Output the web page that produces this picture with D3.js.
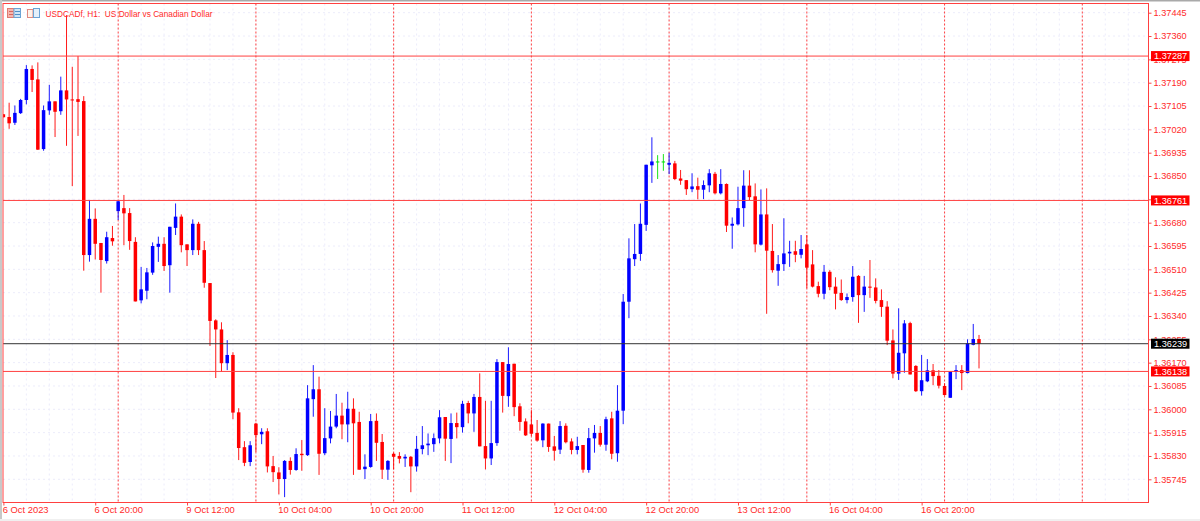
<!DOCTYPE html>
<html>
<head>
<meta charset="utf-8">
<script src="https://cdn.jsdelivr.net/npm/d3@7/dist/d3.min.js"></script>
<style>
html,body{margin:0;padding:0;background:#fff;overflow:hidden}
svg{display:block}
text{font-family:"Liberation Sans",Arial,sans-serif;font-size:9.2px}
</style>
</head>
<body>
<div id="chart"></div>
<script>
const title = "USDCADf, H1:  US Dollar vs Canadian Dollar";
const open = [1.37075,1.37065,1.37044,1.37079,1.37127,1.37240,1.37202,1.36948,1.37089,1.37122,
1.37086,1.37162,1.37129,1.37130,1.37123,1.36562,1.36694,1.36606,1.36540,1.36624,
1.36722,1.36733,1.36715,1.36610,1.36397,1.36432,1.36498,1.36592,1.36603,1.36525,
1.36661,1.36702,1.36601,1.36580,1.36676,1.36580,1.36460,1.36324,1.36291,1.36168,
1.36198,1.35989,1.35862,1.35808,1.35948,1.35909,1.35920,1.35793,1.35770,1.35746,
1.35812,1.35779,1.35838,1.35833,1.36037,1.36073,1.35840,1.35894,1.35937,1.35977,
1.35945,1.36002,1.35954,1.35782,1.35790,1.35958,1.35881,1.35780,1.35838,1.35830,
1.35821,1.35827,1.35792,1.35855,1.35869,1.35873,1.35894,1.35972,1.35892,1.35950,
1.35935,1.36023,1.35985,1.36045,1.35866,1.35821,1.35877,1.36172,1.36048,1.36166,
1.36011,1.35956,1.35945,1.35914,1.35887,1.35948,1.35865,1.35853,1.35940,1.35883,
1.35852,1.35870,1.35779,1.35894,1.35914,1.35871,1.35967,1.35840,1.35995,1.36392,
1.36547,1.36566,1.36672,1.36889,1.36903,1.36903,1.36891,1.36896,1.36841,1.36835,
1.36802,1.36813,1.36800,1.36816,1.36858,1.36787,1.36821,1.36669,1.36674,1.36733,
1.36815,1.36776,1.36600,1.36710,1.36577,1.36505,1.36529,1.36568,1.36576,1.36563,
1.36601,1.36528,1.36449,1.36421,1.36501,1.36447,1.36424,1.36398,1.36409,1.36486,
1.36416,1.36447,1.36444,1.36398,1.36374,1.36251,1.36130,1.36204,1.36314,1.36158,
1.36066,1.36102,1.36142,1.36122,1.36085,1.36042,1.36137,1.36143,1.36132,1.36235,1.36256];
const high = [1.37075,1.37117,1.37107,1.37131,1.37254,1.37253,1.37264,1.37107,1.37182,1.37122,
1.37212,1.37436,1.37248,1.37287,1.37141,1.36762,1.36732,1.36606,1.36647,1.36668,
1.36762,1.36781,1.36733,1.36627,1.36519,1.36515,1.36608,1.36629,1.36627,1.36665,
1.36750,1.36710,1.36601,1.36692,1.36683,1.36613,1.36460,1.36328,1.36317,1.36252,
1.36208,1.36004,1.35884,1.35884,1.35951,1.35931,1.35931,1.35830,1.35789,1.35815,
1.35825,1.35858,1.35888,1.36088,1.36161,1.36119,1.36004,1.35994,1.36056,1.36024,
1.36064,1.36040,1.35991,1.35836,1.35983,1.35985,1.35910,1.35815,1.35842,1.35844,
1.35836,1.35830,1.35903,1.35939,1.35912,1.35912,1.35997,1.35972,1.35985,1.35988,
1.36031,1.36031,1.36056,1.36131,1.36031,1.36031,1.36183,1.36172,1.36226,1.36166,
1.36022,1.35967,1.35997,1.35961,1.35949,1.35948,1.35903,1.35957,1.35949,1.35894,
1.35900,1.35870,1.35932,1.35943,1.35939,1.35973,1.35991,1.36088,1.36420,1.36623,
1.36675,1.36750,1.36891,1.36991,1.36926,1.36930,1.36935,1.36905,1.36872,1.36835,
1.36860,1.36844,1.36834,1.36875,1.36865,1.36875,1.36823,1.36699,1.36811,1.36871,
1.36871,1.36823,1.36801,1.36805,1.36675,1.36562,1.36696,1.36614,1.36614,1.36635,
1.36635,1.36580,1.36465,1.36526,1.36507,1.36481,1.36473,1.36422,1.36522,1.36489,
1.36486,1.36544,1.36477,1.36437,1.36394,1.36291,1.36368,1.36325,1.36319,1.36161,
1.36198,1.36183,1.36165,1.36143,1.36095,1.36137,1.36161,1.36161,1.36255,1.36311,1.36271];
const low = [1.37064,1.37022,1.37036,1.37076,1.37111,1.37156,1.36945,1.36942,1.37073,1.36992,
1.37073,1.36960,1.36813,1.36996,1.36505,1.36538,1.36546,1.36425,1.36531,1.36596,
1.36690,1.36598,1.36581,1.36393,1.36386,1.36401,1.36490,1.36537,1.36504,1.36425,
1.36635,1.36572,1.36522,1.36562,1.36562,1.36443,1.36231,1.36114,1.36137,1.36143,
1.35964,1.35815,1.35793,1.35793,1.35845,1.35873,1.35770,1.35735,1.35690,1.35680,
1.35762,1.35776,1.35776,1.35830,1.35973,1.35761,1.35833,1.35876,1.35931,1.35891,
1.35880,1.35761,1.35780,1.35746,1.35787,1.35812,1.35746,1.35743,1.35781,1.35803,
1.35790,1.35698,1.35773,1.35836,1.35833,1.35845,1.35876,1.35812,1.35804,1.35894,
1.35915,1.35949,1.35918,1.35865,1.35781,1.35797,1.35867,1.35988,1.36009,1.35975,
1.35922,1.35903,1.35903,1.35882,1.35862,1.35845,1.35813,1.35837,1.35876,1.35836,
1.35836,1.35769,1.35769,1.35842,1.35864,1.35849,1.35818,1.35809,1.35946,1.36332,
1.36522,1.36541,1.36650,1.36825,1.36839,1.36869,1.36857,1.36835,1.36818,1.36781,
1.36791,1.36765,1.36766,1.36791,1.36783,1.36783,1.36646,1.36585,1.36670,1.36665,
1.36762,1.36572,1.36597,1.36348,1.36498,1.36450,1.36504,1.36519,1.36536,1.36550,
1.36441,1.36444,1.36408,1.36401,1.36434,1.36364,1.36395,1.36386,1.36392,1.36315,
1.36355,1.36406,1.36386,1.36337,1.36234,1.36113,1.36107,1.36133,1.36127,1.36063,
1.36050,1.36099,1.36088,1.36076,1.36050,1.36042,1.36110,1.36070,1.36131,1.36233,1.36149];
const close = [1.37064,1.37042,1.37080,1.37127,1.37240,1.37200,1.36946,1.37090,1.37122,1.37084,
1.37162,1.37129,1.37128,1.37120,1.36562,1.36694,1.36603,1.36544,1.36627,1.36612,
1.36758,1.36714,1.36613,1.36393,1.36437,1.36499,1.36595,1.36603,1.36522,1.36665,
1.36702,1.36598,1.36580,1.36676,1.36580,1.36461,1.36322,1.36291,1.36168,1.36198,
1.35988,1.35859,1.35805,1.35869,1.35906,1.35918,1.35792,1.35771,1.35746,1.35812,
1.35779,1.35837,1.35833,1.36040,1.36073,1.35838,1.35895,1.35937,1.35977,1.35945,
1.36002,1.35949,1.35780,1.35791,1.35957,1.35878,1.35780,1.35812,1.35827,1.35820,
1.35827,1.35792,1.35856,1.35869,1.35875,1.35895,1.35971,1.35893,1.35950,1.35935,
1.36020,1.35985,1.36045,1.35865,1.35821,1.35877,1.36172,1.36049,1.36165,1.36008,
1.35954,1.35905,1.35911,1.35886,1.35948,1.35863,1.35849,1.35939,1.35880,1.35852,
1.35866,1.35780,1.35895,1.35914,1.35871,1.35964,1.35838,1.35995,1.36392,1.36550,
1.36566,1.36676,1.36891,1.36903,1.36903,1.36903,1.36898,1.36839,1.36833,1.36802,
1.36812,1.36800,1.36817,1.36860,1.36787,1.36821,1.36669,1.36676,1.36733,1.36815,
1.36773,1.36601,1.36710,1.36578,1.36507,1.36529,1.36568,1.36574,1.36563,1.36584,
1.36516,1.36447,1.36421,1.36501,1.36445,1.36421,1.36398,1.36409,1.36483,1.36416,
1.36447,1.36443,1.36395,1.36373,1.36250,1.36130,1.36206,1.36313,1.36127,1.36066,
1.36106,1.36142,1.36121,1.36086,1.36052,1.36137,1.36143,1.36132,1.36240,1.36256,1.36239];

const priceTicks = [1.37445,1.37360,1.37275,1.37190,1.37105,1.37020,1.36935,1.36850,1.36765,1.36680,1.36595,1.36510,1.36425,1.36340,1.36255,1.36170,1.36085,1.36000,1.35915,1.35830,1.35745];
const timeTickBars = [0,16,32,48,64,80,96,112,128,144,160];
const timeTickLabels = ["6 Oct 2023","6 Oct 20:00","9 Oct 12:00","10 Oct 04:00","10 Oct 20:00","11 Oct 12:00","12 Oct 04:00","12 Oct 20:00","13 Oct 12:00","16 Oct 04:00","16 Oct 20:00"];
const sessionBars = [20,44,68,92,116,140,164,188];
const gridBars = d3.range(4,200,4);
const levelPrices = [1.37287,1.36761,1.36138];
const bidPrice = 1.36239;

const RED="#ff0000", BLUE="#0000ff", GREEN="#00e000", AXIS="#ff4040", GRID="#ececfb", LABEL="#ff2a2a";
const W=1200,H=521, L=3, R=1148.5, T=3.5, B=502.5;

const x=d3.scaleLinear().domain([0,170]).range([3.4,979]);
const y=d3.scaleLinear().domain([1.37445,1.35745]).range([12.7,479.3]);

const svg=d3.select("#chart").append("svg").attr("width",W).attr("height",H);
svg.append("rect").attr("width",W).attr("height",H).attr("fill","#fff");
svg.append("clipPath").attr("id","plot").append("rect").attr("x",L).attr("y",T).attr("width",R-L).attr("height",B-T);
// window chrome
svg.append("rect").attr("x",0).attr("y",0).attr("width",W).attr("height",1.5).attr("fill","#a9a9a9");
svg.append("rect").attr("x",0).attr("y",0).attr("width",2).attr("height",H).attr("fill","#c8c8c8");
svg.append("rect").attr("x",0).attr("y",519).attr("width",W).attr("height",2).attr("fill","#f0f0f0");

// grid
const g=svg.append("g");
g.selectAll("line.gh").data(priceTicks).join("line").attr("class","gh")
 .attr("x1",L).attr("x2",R).attr("y1",d=>y(d)).attr("y2",d=>y(d))
 .attr("stroke",GRID).attr("stroke-dasharray","2 3");
g.selectAll("line.gv").data(gridBars.filter(b=>x(b)<R)).join("line").attr("class","gv")
 .attr("x1",d=>x(d)).attr("x2",d=>x(d)).attr("y1",T).attr("y2",B)
 .attr("stroke",GRID).attr("stroke-dasharray","2 3");

// session separators
g.selectAll("line.sep").data(sessionBars).join("line").attr("class","sep")
 .attr("x1",d=>x(d)).attr("x2",d=>x(d)).attr("y1",T).attr("y2",B)
 .attr("stroke",AXIS).attr("stroke-dasharray","2 2");

// candles
const bars=d3.range(open.length).map(i=>({i,o:open[i],h:high[i],l:low[i],c:close[i]}));
const col=d=>d.c>d.o?BLUE:d.c<d.o?RED:GREEN;
const cg=svg.append("g").attr("clip-path","url(#plot)");
cg.selectAll("line").data(bars).join("line")
 .attr("x1",d=>x(d.i)).attr("x2",d=>x(d.i)).attr("y1",d=>y(d.h)).attr("y2",d=>y(d.l))
 .attr("stroke",col).attr("stroke-width",0.9);
cg.selectAll("rect").data(bars).join("rect")
 .attr("x",d=>x(d.i)-1.75).attr("width",3.5)
 .attr("y",d=>y(Math.max(d.o,d.c)))
 .attr("height",d=>Math.max(1,Math.abs(y(d.o)-y(d.c))))
 .attr("fill",col);

// levels
svg.selectAll("line.level").data(levelPrices).join("line").attr("class","level")
 .attr("x1",L).attr("x2",R).attr("y1",d=>y(d)).attr("y2",d=>y(d))
 .attr("stroke",AXIS).attr("stroke-width",1);
svg.append("line").attr("x1",L).attr("x2",R).attr("y1",y(bidPrice)).attr("y2",y(bidPrice))
 .attr("stroke","#333").attr("stroke-width",1);

// frame
svg.append("rect").attr("x",L).attr("y",T).attr("width",R-L).attr("height",B-T)
 .attr("fill","none").attr("stroke",AXIS).attr("stroke-width",1);

// axes
const yAxis=d3.axisRight(y).tickValues(priceTicks).tickFormat(d3.format(".5f")).tickSize(3).tickPadding(2);
const ya=svg.append("g").attr("transform",`translate(${R},0)`).call(yAxis);
ya.select(".domain").remove();
ya.selectAll("line").attr("stroke",AXIS);
ya.selectAll("text").attr("fill",LABEL).style("font-size","9.2px").style("font-family","'Liberation Sans',Arial,sans-serif");

const xAxis=d3.axisBottom(x).tickValues(timeTickBars).tickFormat((d,i)=>timeTickLabels[i]).tickSize(3).tickPadding(1);
const xa=svg.append("g").attr("transform",`translate(0,${B})`).call(xAxis);
xa.select(".domain").remove();
xa.selectAll("line").attr("stroke",AXIS);
xa.selectAll("text").attr("fill",LABEL).attr("text-anchor","start").attr("dx",-1.2)
 .style("font-size","9.4px").style("font-family","'Liberation Sans',Arial,sans-serif");

// price flags
const flags=[...levelPrices.map(p=>({p,bg:"#ff0000"})),{p:bidPrice,bg:"#000"}];
const fg=svg.selectAll("g.flag").data(flags).join("g").attr("class","flag")
 .attr("transform",d=>`translate(1151,${y(d.p)})`);
fg.append("rect").attr("x",0).attr("y",-5).attr("width",38.5).attr("height",10).attr("fill",d=>d.bg);
fg.append("text").attr("x",3).attr("y",3.3).attr("fill","#fff").text(d=>d3.format(".5f")(d.p));

// toolbar icons
const ic=svg.append("g");
ic.append("rect").attr("x",7.5).attr("y",8.5).attr("width",6.5).attr("height",9).attr("fill","#f5b5ae").attr("stroke","#e07a70");
ic.append("rect").attr("x",14).attr("y",8.5).attr("width",6.5).attr("height",9).attr("fill","#cfe4f5").attr("stroke","#6aa3d5");
[11,14].forEach(v=>{
  ic.append("line").attr("x1",9).attr("x2",13).attr("y1",v+.5).attr("y2",v+.5).attr("stroke","#d9665c");
  ic.append("line").attr("x1",15).attr("x2",20).attr("y1",v+.5).attr("y2",v+.5).attr("stroke","#4f8fc8");
});
ic.append("rect").attr("x",27.5).attr("y",9.5).attr("width",5.5).attr("height",8).attr("fill","#fff3ea").attr("stroke","#e08a80");
ic.append("rect").attr("x",33.5).attr("y",8.5).attr("width",6).attr("height",9).attr("fill","#e4f0fa").attr("stroke","#6aa3d5");

// title
svg.append("text").attr("x",45.5).attr("y",16.5).attr("fill",LABEL).attr("xml:space","preserve")
 .attr("textLength",167).attr("lengthAdjust","spacingAndGlyphs")
 .style("white-space","pre").text(title);
</script>
</body>
</html>
